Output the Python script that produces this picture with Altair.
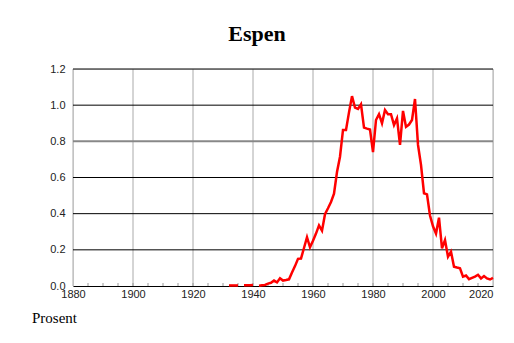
import altair as alt
import pandas as pd

# ---- data ----
years_a = [1932, 1933, 1934, 1935]
vals_a = [0.003, 0.003, 0.003, 0.003]
years_b = [1937, 1938, 1939, 1940]
vals_b = [0.004, 0.004, 0.004, 0.005]
years_c = list(range(1942, 2021))
vals_c = [0.002, 0.004, 0.006, 0.013, 0.018, 0.03, 0.02, 0.043, 0.03, 0.033,
          0.037, 0.075, 0.11, 0.15, 0.152, 0.21, 0.27, 0.214, 0.25, 0.29,
          0.335, 0.306, 0.397, 0.43, 0.465, 0.51, 0.63, 0.715, 0.863, 0.863,
          0.96, 1.05, 0.986, 0.979, 1.005, 0.876, 0.87, 0.865, 0.74, 0.918,
          0.95, 0.9, 0.973, 0.95, 0.95, 0.89, 0.927, 0.78, 0.968, 0.88,
          0.893, 0.918, 1.034, 0.78, 0.67, 0.513, 0.507, 0.39, 0.33, 0.29,
          0.378, 0.208, 0.254, 0.162, 0.19, 0.107, 0.102, 0.098, 0.052, 0.058,
          0.038, 0.045, 0.052, 0.062, 0.042, 0.055, 0.042, 0.036, 0.045]

x_label_years = [1880, 1900, 1920, 1940, 1960, 1980, 2000, 2020]
minor_tick_years = list(range(1885, 2020, 5))
y_ticks = [0.0, 0.2, 0.4, 0.6, 0.8, 1.0, 1.2]
black_grid = [0.2, 0.4, 0.6, 1.0, 1.2]
grey_grid = [0.8]
title_text = "Espen"
ylabel_text = "Prosent"

rows = []
for seg, ys, vs in (("a", years_a, vals_a), ("b", years_b, vals_b), ("c", years_c, vals_c)):
    for y, v in zip(ys, vs):
        rows.append({"year": y, "value": v, "seg": seg})
df = pd.DataFrame(rows)

xscale = alt.Scale(domain=[1880, 2020], nice=False, zero=False)
yscale = alt.Scale(domain=[0, 1.2], nice=False)

xaxis = alt.Axis(values=x_label_years, format="d", grid=False, ticks=False,
                 domain=True, domainColor="#000000", domainWidth=1, title=None,
                 labelFont="Liberation Sans", labelFontSize=11,
                 labelColor="#222222", labelPadding=2, labelOverlap=False,
                 labelAlign={"condition": {"test": "datum.value == 2020", "value": "right"},
                             "value": "center"})
yaxis = alt.Axis(values=y_ticks, format=".1f", grid=False, ticks=False, title=None,
                 domain=False, labelFont="Liberation Sans", labelFontSize=11,
                 labelColor="#222222", labelPadding=8, labelOverlap=False,
                 labelFlush=False)

W, H = 420, 217

vgrid = alt.Chart(pd.DataFrame({"year": x_label_years})).mark_rule(
    color="#aaaaaa", strokeWidth=1
).encode(x=alt.X("year:Q", scale=xscale, axis=xaxis))

minor = alt.Chart(pd.DataFrame({"year": minor_tick_years})).mark_rule(
    color="#999999", strokeWidth=1
).encode(x=alt.X("year:Q", scale=xscale, axis=xaxis), y=alt.value(H - 3), y2=alt.value(H))

hgrid = alt.Chart(pd.DataFrame({"v": black_grid})).mark_rule(
    color="#000000", strokeWidth=1
).encode(y=alt.Y("v:Q", scale=yscale, axis=yaxis))

hgrid2 = alt.Chart(pd.DataFrame({"v": grey_grid})).mark_rule(
    color="#888888", strokeWidth=2
).encode(y=alt.Y("v:Q", scale=yscale, axis=yaxis))

line = alt.Chart(df).mark_line(color="#ff0000", strokeWidth=2.5).encode(
    x=alt.X("year:Q", scale=xscale, axis=xaxis),
    y=alt.Y("value:Q", scale=yscale, axis=yaxis),
    detail="seg:N",
)

title = alt.Chart(pd.DataFrame({"t": [title_text]})).mark_text(
    font="Liberation Serif", fontSize=22, fontWeight="bold", color="#000000",
    align="center", baseline="alphabetic"
).encode(x=alt.value(184), y=alt.value(-28), text="t:N")

ylab = alt.Chart(pd.DataFrame({"t": [ylabel_text]})).mark_text(
    font="Liberation Serif", fontSize=15, color="#000000",
    align="left", baseline="alphabetic"
).encode(x=alt.value(-41), y=alt.value(254), text="t:N")

chart = alt.layer(vgrid, minor, hgrid, hgrid2, line, title, ylab).properties(
    width=W, height=H,
    autosize=alt.AutoSizeParams(type="none"),
    padding={"left": 73, "top": 69, "right": 21, "bottom": 57},
).configure_view(stroke=None).configure(background="white")

chart.save("out.html", embed_options={"renderer": "svg", "actions": False})
